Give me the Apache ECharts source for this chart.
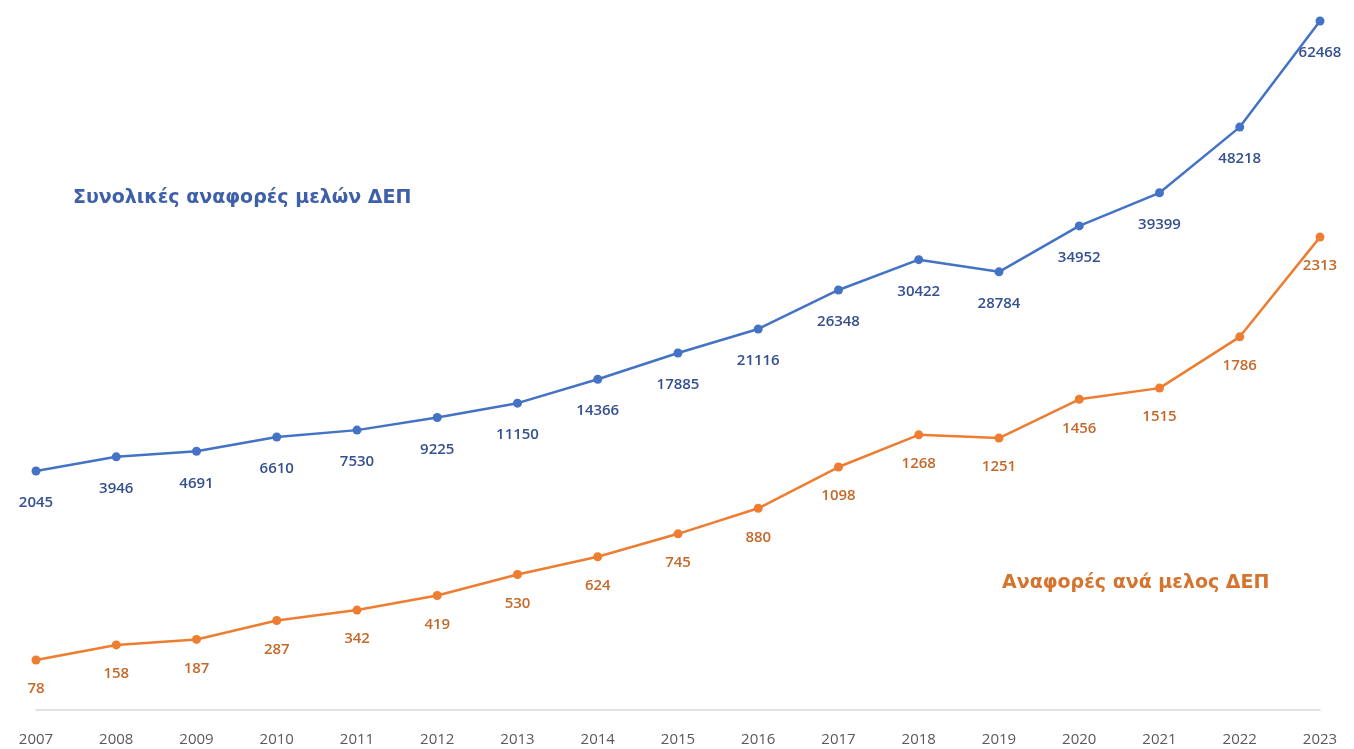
<!DOCTYPE html>
<html>
<head>
<meta charset="utf-8">
<script src="https://cdn.jsdelivr.net/npm/echarts@6/dist/echarts.min.js"></script>
<style>html,body{margin:0;padding:0;background:#fff;}#c{width:1354px;height:749px;}</style>
</head>
<body>
<div id="c"></div>
<script>
const years = ['2007','2008','2009','2010','2011','2012','2013','2014','2015','2016','2017','2018','2019','2020','2021','2022','2023'];
const totalReports = [2045,3946,4691,6610,7530,9225,11150,14366,17885,21116,26348,30422,28784,34952,39399,48218,62468];
const perMemberReports = [78,158,187,287,342,419,530,624,745,880,1098,1268,1251,1456,1515,1786,2313];
const totalName = 'Συνολικές αναφορές μελών ΔΕΠ';
const perMemberName = 'Αναφορές ανά μελος ΔΕΠ';

const chart = echarts.init(document.getElementById('c'));
const font = '"Open Sans", "DejaVu Sans", sans-serif';
const annFont = '"DejaVu Sans", sans-serif';
chart.setOption({
  animation: false,
  backgroundColor: '#ffffff',
  grid: {left: 36, right: 34, top: 21, bottom: 39, containLabel: false},
  xAxis: {
    type: 'category', data: years, boundaryGap: false,
    axisLine: {onZero: false, lineStyle: {color: '#d9d9d9', width: 1.5}},
    axisTick: {show: false},
    axisLabel: {color: '#595959', fontFamily: font, fontSize: 15, margin: 22}
  },
  yAxis: [
    {type: 'value', min: -30053, max: 62468, show: false, splitLine: {show: false}},
    {type: 'value', min: -186, max: 3455, show: false, splitLine: {show: false}}
  ],
  graphic: [
    {type: 'text', left: 73, top: 189, style: {text: totalName, fill: '#3f60a8', font: 'bold 19px ' + annFont}},
    {type: 'text', left: 1002, top: 574, style: {text: perMemberName, fill: '#d4742f', font: 'bold 19px ' + annFont}}
  ],
  series: [
    {
      name: totalName, type: 'line', yAxisIndex: 0, data: totalReports,
      symbol: 'circle', symbolSize: 9,
      lineStyle: {color: '#4472c4', width: 2.5},
      itemStyle: {color: '#4472c4'},
      label: {show: true, position: 'bottom', distance: 20, color: '#35508f', fontFamily: font, fontSize: 15, fontWeight: 600}
    },
    {
      name: perMemberName, type: 'line', yAxisIndex: 1, data: perMemberReports,
      symbol: 'circle', symbolSize: 9,
      lineStyle: {color: '#ed7d31', width: 2.5},
      itemStyle: {color: '#ed7d31'},
      label: {show: true, position: 'bottom', distance: 17, color: '#c4692a', fontFamily: font, fontSize: 15, fontWeight: 600}
    }
  ]
});
</script>
</body>
</html>
